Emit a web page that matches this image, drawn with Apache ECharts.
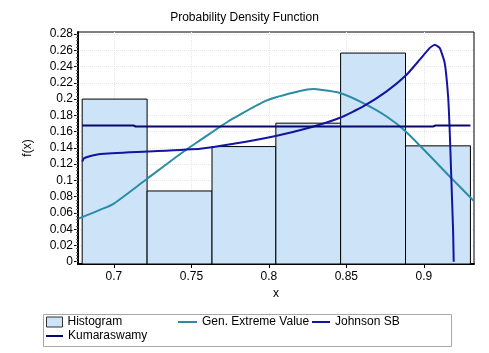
<!DOCTYPE html>
<html>
<head>
<meta charset="utf-8">
<title>Probability Density Function</title>
<script src="https://cdn.jsdelivr.net/npm/echarts@6/dist/echarts.min.js"></script>
<style>
html,body{margin:0;padding:0;background:#fff;}
#container{width:489px;height:353px;}
</style>
</head>
<body>
<div id="container"></div>
<script>
    // histogram bins (edges) and relative frequencies
    var binEdges = [0.6795, 0.7214, 0.7633, 0.8045, 0.8463, 0.8882, 0.9301];
    var binFreq = [0.200, 0.087, 0.1416, 0.1704, 0.2566, 0.1425];

    // fitted curves
    var gevX = [0.6771, 0.6913, 0.6999, 0.7214, 0.7439, 0.7557, 0.7654, 0.7729, 0.7772, 0.7987, 0.8201, 0.8287, 0.8309, 0.8459, 0.8609, 0.8760, 0.8882, 0.9189, 0.9322];
    var gevY = [0.053, 0.0640, 0.0715, 0.102, 0.1340, 0.1495, 0.1620, 0.1715, 0.1765, 0.1985, 0.2100, 0.2123, 0.2120, 0.2074, 0.195, 0.1786, 0.1604, 0.1006, 0.0748];

    var jsbX = [0.6795, 0.6806, 0.6849, 0.6913, 0.7214, 0.7557, 0.7772, 0.8051, 0.8266, 0.8459, 0.8609, 0.8760, 0.8889, 0.8974, 0.9039, 0.9071, 0.9103, 0.9135, 0.9157, 0.9167, 0.9178, 0.9189, 0.9193];
    var jsbY = [0.123, 0.127, 0.130, 0.1325, 0.1355, 0.139, 0.1450, 0.155, 0.1650, 0.177, 0.191, 0.2095, 0.230, 0.2485, 0.2630, 0.2669, 0.2628, 0.2443, 0.2032, 0.1622, 0.1006, 0.039, 0.0];

    var kumX = [0.6795, 0.7126, 0.7140, 0.9060, 0.9075, 0.9301];
    var kumY = [0.1675, 0.1675, 0.1663, 0.1663, 0.1675, 0.1675];

    // axis ticks
    var xTicks = [0.7, 0.75, 0.8, 0.85, 0.9];
    var yTicks = [0, 0.02, 0.04, 0.06, 0.08, 0.1, 0.12, 0.14, 0.16, 0.18, 0.2, 0.22, 0.24, 0.26, 0.28];
    var xMinor = [];
    for (var i = 68; i <= 93; i++) xMinor.push(i / 100);
    var yMinor = [];
    for (var j = 0; j <= 70; j++) yMinor.push(j * 4 / 1000);

    var xMin = 0.6768, xMax = 0.9324, yMin = -0.0028, yMax = 0.2825;

    function pairs(xs, ys) {
        return xs.map(function (x, k) { return [x, ys[k]]; });
    }
    var histData = binFreq.map(function (f, k) { return [binEdges[k], binEdges[k + 1], f]; });

    var font = 'Liberation Sans, Arial, sans-serif';
    var histColor = '#cce3f8';
    var gevColor = '#2b8ca6';
    var jsbColor = '#1414a2';
    var kumColor = '#07076e';

    function legendItem(left, top, icon) {
        return {
            data: [icon],
            left: left, top: top,
            padding: 0,
            itemWidth: icon.w, itemHeight: icon.h,
            textStyle: {fontSize: 12, color: '#000', fontFamily: font},
            selectedMode: false
        };
    }

    var option = {
        animation: false,
        title: {
            text: 'Probability Density Function',
            left: 'center', top: 12, padding: 0,
            textStyle: {fontSize: 12, fontWeight: 'normal', color: '#000', fontFamily: font}
        },
        grid: {
            left: 78, right: 15, top: 32, bottom: 89,
            show: true, borderColor: '#000', borderWidth: 1
        },
        legend: [
            legendItem(46, 316, {name: 'Histogram', icon: 'rect', w: 16, h: 10, itemStyle: {color: histColor, borderColor: '#333', borderWidth: 1}}),
            legendItem(178, 316, {name: 'Gen. Extreme Value', icon: 'rect', w: 19, h: 2, itemStyle: {color: gevColor}}),
            legendItem(312, 316, {name: 'Johnson SB', icon: 'rect', w: 18, h: 2, itemStyle: {color: jsbColor}}),
            legendItem(46, 330, {name: 'Kumaraswamy', icon: 'rect', w: 17, h: 2, itemStyle: {color: kumColor}})
        ],
        graphic: [{
            type: 'rect', left: 41, top: 312,
            shape: {width: 408, height: 32},
            style: {fill: 'none', stroke: '#a8a8a8', lineWidth: 1},
            silent: true
        }],
        xAxis: [{
            type: 'value', min: xMin, max: xMax,
            name: 'x', nameLocation: 'middle', nameGap: 20,
            nameTextStyle: {fontSize: 12, color: '#000', fontFamily: font},
            axisLine: {show: true, onZero: false, lineStyle: {color: '#000', width: 2}},
            axisTick: {show: true, customValues: xTicks, length: 4, lineStyle: {color: '#000'}},
            axisLabel: {customValues: xTicks, margin: 7, fontSize: 12, color: '#000', fontFamily: font},
            splitLine: {show: true, lineStyle: {color: '#e6e6e6', type: 'dotted'}}
        }, {
            type: 'value', min: xMin, max: xMax, position: 'bottom',
            axisLine: {show: false},
            axisTick: {show: true, customValues: xMinor, length: 2, lineStyle: {color: '#555'}},
            axisLabel: {show: false},
            splitLine: {show: false}
        }],
        yAxis: [{
            type: 'value', min: yMin, max: yMax,
            name: 'f(x)', nameLocation: 'middle', nameGap: 44,
            nameTextStyle: {fontSize: 12, color: '#000', fontFamily: font},
            axisLine: {show: true, onZero: false, lineStyle: {color: '#000', width: 2}},
            axisTick: {show: true, customValues: yTicks, length: 4, lineStyle: {color: '#000'}},
            axisLabel: {
                customValues: yTicks, margin: 5, fontSize: 12, color: '#000', fontFamily: font,
                formatter: function (v) { return String(+v.toFixed(2)); }
            },
            splitLine: {show: true, lineStyle: {color: '#e6e6e6', type: 'dotted'}}
        }, {
            type: 'value', min: yMin, max: yMax, position: 'left',
            axisLine: {show: false},
            axisTick: {show: true, customValues: yMinor, length: 2, lineStyle: {color: '#666'}},
            axisLabel: {show: false},
            splitLine: {show: false}
        }],
        series: [
            {
                name: 'Histogram',
                type: 'custom',
                clip: true,
                encode: {x: [0, 1], y: 2},
                renderItem: function (params, api) {
                    var p0 = api.coord([api.value(0), api.value(2)]);
                    var p1 = api.coord([api.value(1), yMin]);
                    return {
                        type: 'rect',
                        shape: {x: p0[0], y: p0[1], width: p1[0] - p0[0], height: p1[1] - p0[1]},
                        style: {fill: histColor, stroke: '#000', lineWidth: 1}
                    };
                },
                data: histData
            },
            {
                name: 'Gen. Extreme Value', type: 'line',
                symbol: 'none', clip: true, smooth: 0.25,
                lineStyle: {color: gevColor, width: 2, join: 'round'},
                itemStyle: {color: gevColor},
                data: pairs(gevX, gevY)
            },
            {
                name: 'Johnson SB', type: 'line',
                symbol: 'none', clip: true, smooth: 0.15,
                lineStyle: {color: jsbColor, width: 2, join: 'round'},
                itemStyle: {color: jsbColor},
                data: pairs(jsbX, jsbY)
            },
            {
                name: 'Kumaraswamy', type: 'line',
                symbol: 'none', clip: true,
                lineStyle: {color: kumColor, width: 2},
                itemStyle: {color: kumColor},
                data: pairs(kumX, kumY)
            }
        ]
    };
    var myChart = echarts.init(document.getElementById('container'));
    myChart.setOption(option, true);
</script>
</body>
</html>
